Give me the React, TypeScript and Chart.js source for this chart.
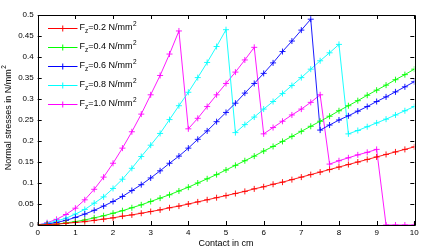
import React, { useEffect, useRef } from "react";
import { Chart, registerables } from "chart.js";

Chart.register(...registerables);

const contactCm = [
  0, 0.25, 0.5, 0.75, 1, 1.25, 1.5, 1.75, 2, 2.25, 2.5, 2.75, 3, 3.25, 3.5, 3.75, 4, 4.25, 4.5, 4.75,
  5, 5.25, 5.5, 5.75, 6, 6.25, 6.5, 6.75, 7, 7.25, 7.5, 7.75, 8, 8.25, 8.5, 8.75, 9, 9.25, 9.5, 9.75, 10,
];

const fz02 = [
  0, 0.0008, 0.002, 0.004, 0.006, 0.008, 0.011, 0.014, 0.017, 0.021, 0.024, 0.028, 0.032, 0.036, 0.041,
  0.045, 0.05, 0.055, 0.06, 0.065, 0.07, 0.075, 0.08, 0.086, 0.091, 0.097, 0.102, 0.108, 0.114, 0.12,
  0.126, 0.132, 0.138, 0.144, 0.15, 0.156, 0.162, 0.168, 0.174, 0.18, 0.186,
];

const fz04 = [
  0, 0.001, 0.002, 0.005, 0.008, 0.012, 0.017, 0.022, 0.028, 0.034, 0.041, 0.048, 0.056, 0.064, 0.072,
  0.081, 0.09, 0.1, 0.11, 0.12, 0.131, 0.142, 0.153, 0.164, 0.176, 0.187, 0.199, 0.211, 0.223, 0.235,
  0.247, 0.259, 0.272, 0.284, 0.296, 0.309, 0.321, 0.333, 0.346, 0.358, 0.371,
];

const fz06 = [
  0, 0.002, 0.006, 0.011, 0.018, 0.026, 0.035, 0.045, 0.056, 0.068, 0.082, 0.096, 0.112, 0.129, 0.147,
  0.164, 0.183, 0.204, 0.224, 0.246, 0.268, 0.29, 0.314, 0.337, 0.361, 0.386, 0.413, 0.438, 0.464, 0.49,
  0.226, 0.238, 0.25, 0.26, 0.271, 0.282, 0.294, 0.305, 0.317, 0.329, 0.341,
];

const fz08 = [
  0, 0.004, 0.0095, 0.016, 0.026, 0.037, 0.052, 0.067, 0.087, 0.109, 0.135, 0.163, 0.19, 0.218, 0.251,
  0.284, 0.316, 0.351, 0.387, 0.425, 0.465, 0.22, 0.239, 0.257, 0.276, 0.294, 0.313, 0.332, 0.351, 0.371,
  0.391, 0.41, 0.43, 0.217, 0.225, 0.234, 0.243, 0.252, 0.262, 0.272, 0.282,
];

const fz10 = [
  0, 0.0055, 0.0135, 0.025, 0.04, 0.06, 0.085, 0.114, 0.147, 0.183, 0.222, 0.264, 0.31, 0.356, 0.407,
  0.462, 0.229, 0.254, 0.282, 0.31, 0.337, 0.364, 0.393, 0.423, 0.217, 0.232, 0.247, 0.262, 0.276, 0.292,
  0.31, 0.145, 0.153, 0.16, 0.167, 0.173, 0.18, 0, 0, 0, 0,
];

const loadLabels = ["0.2", "0.4", "0.6", "0.8", "1.0"];
const seriesColors = ["#ff0000", "#00ff00", "#0000ff", "#00ffff", "#ff00ff"];
const xTickValues = [0, 1, 2, 3, 4, 5, 6, 7, 8, 9, 10];
const yTickValues = [0, 0.05, 0.1, 0.15, 0.2, 0.25, 0.3, 0.35, 0.4, 0.45, 0.5];

const FONT = '"Liberation Sans", Arial, Helvetica, sans-serif';

const framePlugin = {
  id: "matlabFrame",
  afterDraw(chart: any) {
    const ctx = chart.ctx;
    const { left, right, top, bottom } = chart.chartArea;
    const xs = chart.scales.x;
    const ys = chart.scales.y;
    ctx.save();
    ctx.strokeStyle = "#000";
    ctx.lineWidth = 1;
    ctx.beginPath();
    const tl = 4;
    for (const v of xTickValues) {
      const px = Math.round(xs.getPixelForValue(v)) + 0.5;
      ctx.moveTo(px, bottom);
      ctx.lineTo(px, bottom - tl);
      ctx.moveTo(px, top);
      ctx.lineTo(px, top + tl);
    }
    for (const v of yTickValues) {
      const py = Math.round(ys.getPixelForValue(v)) + 0.5;
      ctx.moveTo(left, py);
      ctx.lineTo(left + tl, py);
      ctx.moveTo(right, py);
      ctx.lineTo(right - tl, py);
    }
    ctx.stroke();
    ctx.beginPath();
    ctx.rect(Math.round(left) + 0.5, Math.round(top) + 0.5, Math.round(right - left), Math.round(bottom - top));
    ctx.stroke();

    // axis titles
    ctx.fillStyle = "#000";
    ctx.font = `9px ${FONT}`;
    ctx.textAlign = "center";
    ctx.textBaseline = "middle";
    ctx.fillText("Contact in cm", (left + right) / 2, 243.5);

    ctx.save();
    ctx.translate(8.5, (top + bottom) / 2 - 2);
    ctx.rotate(-Math.PI / 2);
    const main = "Normal stresses in N/mm";
    ctx.font = `9px ${FONT}`;
    const w1 = ctx.measureText(main).width;
    ctx.font = `6.5px ${FONT}`;
    const w2 = ctx.measureText("2").width;
    const start = -(w1 + w2) / 2;
    ctx.textAlign = "left";
    ctx.font = `9px ${FONT}`;
    ctx.fillText(main, start, 0);
    ctx.font = `6.5px ${FONT}`;
    ctx.fillText("2", start + w1 + 0.5, -4);
    ctx.restore();

    // legend
    chart.data.datasets.forEach((ds: any, i: number) => {
      const y = 28 + 19 * i;
      const x0 = 48;
      const x1 = 77.5;
      ctx.strokeStyle = ds.borderColor;
      ctx.lineWidth = 1;
      ctx.beginPath();
      ctx.moveTo(x0, y + 0.5);
      ctx.lineTo(x1, y + 0.5);
      const cx = (x0 + x1) / 2;
      ctx.moveTo(cx, y - 2.5);
      ctx.lineTo(cx, y + 3.5);
      ctx.moveTo(cx - 3, y + 0.5);
      ctx.lineTo(cx + 3, y + 0.5);
      ctx.stroke();

      ctx.fillStyle = "#000";
      ctx.textAlign = "left";
      ctx.textBaseline = "middle";
      let tx = 79.5;
      ctx.font = `9px ${FONT}`;
      ctx.fillText("F", tx, y);
      tx += ctx.measureText("F").width;
      ctx.font = `6.5px ${FONT}`;
      ctx.fillText("z", tx, y + 3);
      tx += ctx.measureText("z").width;
      ctx.font = `9px ${FONT}`;
      const body = `=${ds.label} N/mm`;
      ctx.fillText(body, tx, y);
      tx += ctx.measureText(body).width;
      ctx.font = `6.5px ${FONT}`;
      ctx.fillText("2", tx + 0.5, y - 4);
    });
    ctx.restore();
  },
};

export default function App() {
  const ref = useRef<HTMLCanvasElement | null>(null);
  useEffect(() => {
    document.body.style.margin = "0";
    const canvas = ref.current;
    if (!canvas) return;
    const seriesValues = [fz02, fz04, fz06, fz08, fz10];
    const datasets = seriesValues.map((vals, i) => ({
      label: loadLabels[i],
      data: contactCm.map((x, j) => ({ x, y: vals[j] })),
      borderColor: seriesColors[i],
      backgroundColor: seriesColors[i],
      pointBorderColor: seriesColors[i],
      borderWidth: 0.9,
      pointStyle: "cross",
      pointRadius: 3,
      pointBorderWidth: 0.9,
      tension: 0,
      fill: false,
    }));
    const chart = new Chart(canvas, {
      type: "line",
      data: { datasets },
      options: {
        responsive: false,
        animation: false,
        devicePixelRatio: 1,
        layout: { padding: { top: 15, right: 10.7, left: 0, bottom: 0 } },
        plugins: { legend: { display: false }, tooltip: { enabled: false } },
        font: { family: FONT },
        scales: {
          x: {
            type: "linear",
            min: 0,
            max: 10,
            afterFit: (s: any) => {
              s.height = 26;
            },
            afterBuildTicks: (s: any) => {
              s.ticks = xTickValues.map((v) => ({ value: v }));
            },
            grid: { display: false, drawTicks: false },
            border: { display: false },
            ticks: {
              color: "#000",
              font: { size: 8, family: FONT },
              padding: 3,
              maxRotation: 0,
              autoSkip: false,
            },
          },
          y: {
            type: "linear",
            min: 0,
            max: 0.5,
            afterFit: (s: any) => {
              s.width = 37.7;
            },
            afterBuildTicks: (s: any) => {
              s.ticks = yTickValues.map((v) => ({ value: v }));
            },
            grid: { display: false, drawTicks: false },
            border: { display: false },
            ticks: {
              color: "#000",
              font: { size: 8, family: FONT },
              padding: 4,
              autoSkip: false,
              callback: (v: any) => String(+Number(v).toFixed(2)),
            },
          },
        },
      } as any,
      plugins: [framePlugin],
    });
    return () => chart.destroy();
  }, []);
  return <canvas ref={ref} width={425} height={251} style={{ display: "block" }} />;
}
